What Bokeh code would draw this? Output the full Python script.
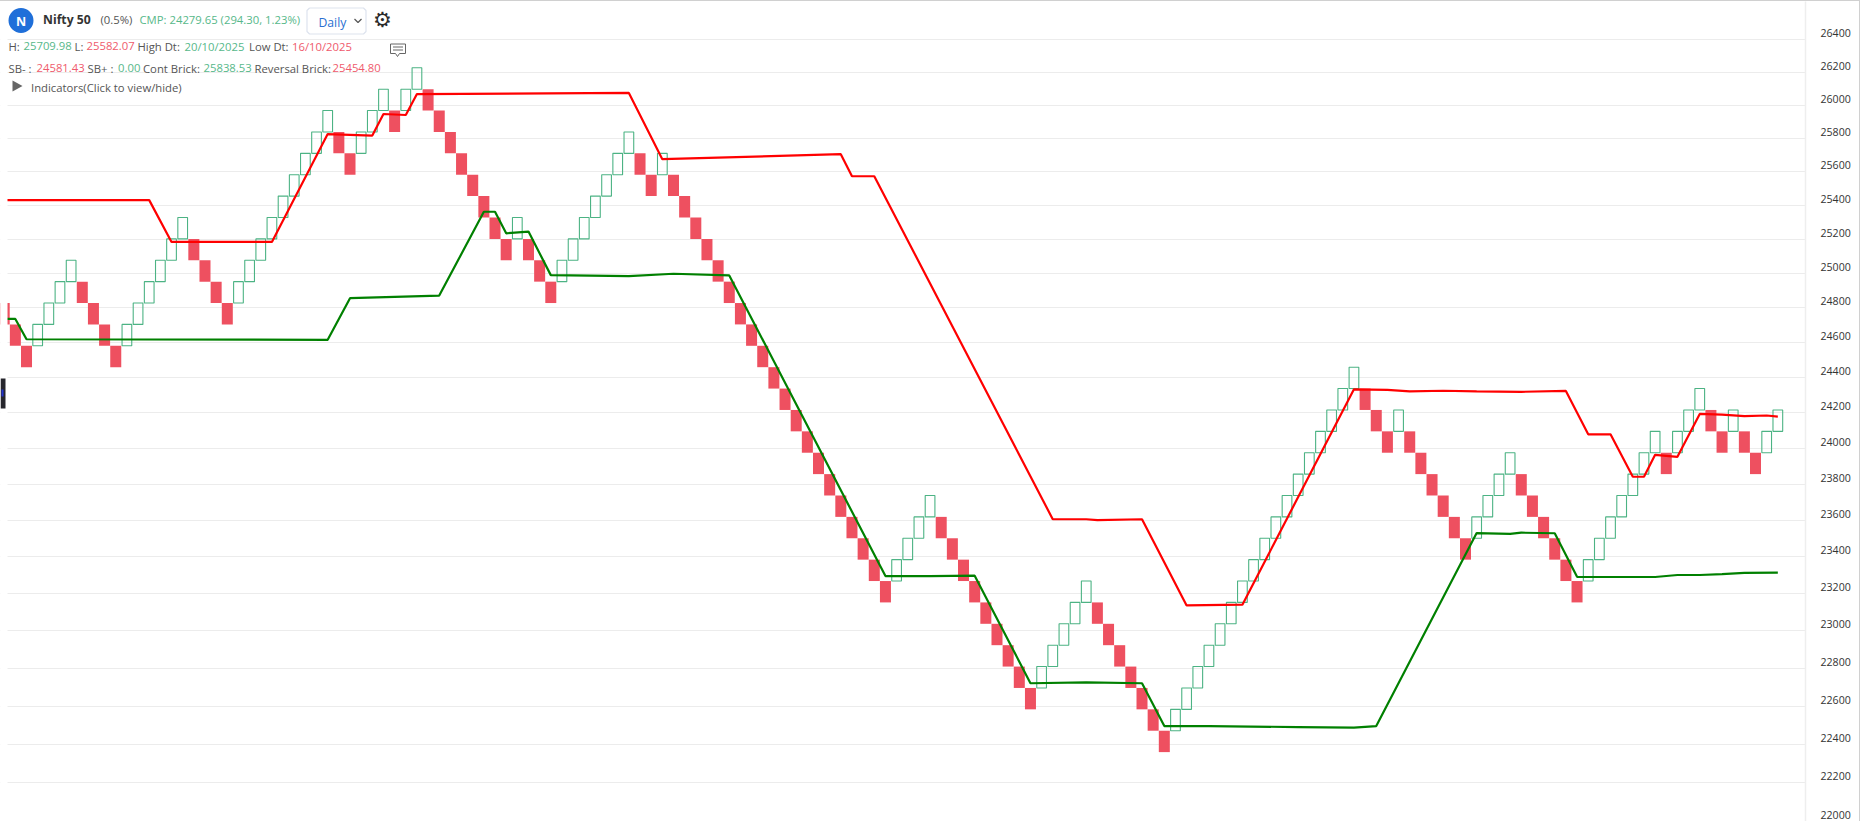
from bokeh.core.properties import value
from bokeh.embed import file_html
from bokeh.models import (BasicTickFormatter, FixedTicker, Grid, LinearAxis,
                          LinearScale, LogScale, Range1d)
from bokeh.plotting import figure
from bokeh.resources import INLINE

# ---- chart values -----------------------------------------------------------------------
y_ticks = [22000, 22200, 22400, 22600, 22800, 23000, 23200, 23400, 23600, 23800, 24000, 24200,
           24400, 24600, 24800, 25000, 25200, 25400, 25600, 25800, 26000, 26200, 26400]

brick_levels = [22358.97, 22470.77, 22583.12, 22696.04, 22809.52, 22923.57, 23038.18, 23153.37,
                23269.14, 23385.49, 23502.42, 23619.93, 23738.03, 23856.72, 23976.00, 24095.88,
                24216.36, 24337.44, 24459.13, 24581.43, 24704.35, 24827.87, 24952.01, 25076.77,
                25202.15, 25328.16, 25454.80, 25582.07, 25709.98, 25838.53, 25967.72, 26097.56,
                26228.05]

# top price of the brick in each column
brick_top = [
    24827.87, 24704.35, 24581.43, 24704.35, 24827.87, 24952.01, 25076.77, 24952.01, 24827.87, 24704.35,
    24581.43, 24704.35, 24827.87, 24952.01, 25076.77, 25202.15, 25328.16, 25202.15, 25076.77, 24952.01,
    24827.87, 24952.01, 25076.77, 25202.15, 25328.16, 25454.80, 25582.07, 25709.98, 25838.53, 25967.72,
    25838.53, 25709.98, 25838.53, 25967.72, 26097.56, 25967.72, 26097.56, 26228.05, 26097.56, 25967.72,
    25838.53, 25709.98, 25582.07, 25454.80, 25328.16, 25202.15, 25328.16, 25202.15, 25076.77, 24952.01,
    25076.77, 25202.15, 25328.16, 25454.80, 25582.07, 25709.98, 25838.53, 25709.98, 25582.07, 25709.98,
    25582.07, 25454.80, 25328.16, 25202.15, 25076.77, 24952.01, 24827.87, 24704.35, 24581.43, 24459.13,
    24337.44, 24216.36, 24095.88, 23976.00, 23856.72, 23738.03, 23619.93, 23502.42, 23385.49, 23269.14,
    23385.49, 23502.42, 23619.93, 23738.03, 23619.93, 23502.42, 23385.49, 23269.14, 23153.37, 23038.18,
    22923.57, 22809.52, 22696.04, 22809.52, 22923.57, 23038.18, 23153.37, 23269.14, 23153.37, 23038.18,
    22923.57, 22809.52, 22696.04, 22583.12, 22470.77, 22583.12, 22696.04, 22809.52, 22923.57, 23038.18,
    23153.37, 23269.14, 23385.49, 23502.42, 23619.93, 23738.03, 23856.72, 23976.00, 24095.88, 24216.36,
    24337.44, 24459.13, 24337.44, 24216.36, 24095.88, 24216.36, 24095.88, 23976.00, 23856.72, 23738.03,
    23619.93, 23502.42, 23619.93, 23738.03, 23856.72, 23976.00, 23856.72, 23738.03, 23619.93, 23502.42,
    23385.49, 23269.14, 23385.49, 23502.42, 23619.93, 23738.03, 23856.72, 23976.00, 24095.88, 23976.00,
    24095.88, 24216.36, 24337.44, 24216.36, 24095.88, 24216.36, 24095.88, 23976.00, 24095.88, 24216.36,
]

red_cols = [0, 13, 15, 24, 29, 33, 34, 36, 37, 56, 59, 75, 76, 78, 94, 97, 98, 102, 106, 111, 121, 124,
            126, 129, 132, 136, 140, 142, 144, 146, 147, 148, 150, 152, 154, 156, 158, 159]
red_vals = [25431, 25431, 25184, 25184, 25826, 25817, 25947, 25941, 26068, 26075, 25675, 25705, 25573,
            25573, 23607, 23607, 23602, 23607, 23137, 23141, 24333, 24330, 24322, 24325, 24322, 24319,
            24324, 24079, 24079, 23842, 23842, 23964, 23953, 24194, 24190, 24182, 24185, 24179]

green_cols = [0, 1, 2, 29, 31, 39, 43, 44, 45, 47, 49, 56, 60, 65, 79, 83, 87, 92, 97, 102, 104, 108, 116,
              121, 123, 132, 135, 136, 139, 141, 148, 150, 152, 154, 156, 159]
green_vals = [24736, 24736, 24619, 24616, 24856, 24871, 25362, 25362, 25235, 25245, 24990, 24984, 24998,
              24988, 23296, 23296, 23298, 22721, 22726, 22721, 22495, 22495, 22490, 22487, 22495, 23531,
              23526, 23533, 23530, 23292, 23291, 23302, 23302, 23307, 23313, 23315]

# ---- derived brick table ------------------------------------------------------------------
brick_bottom = [brick_levels[brick_levels.index(t) - 1] for t in brick_top]
brick_col = list(range(len(brick_top)))
is_up = [i > 0 and brick_top[i] > brick_top[i - 1] for i in brick_col]
up_x = [c for c, u in zip(brick_col, is_up) if u]
up_t = [t for t, u in zip(brick_top, is_up) if u]
up_b = [b for b, u in zip(brick_bottom, is_up) if u]
dn_x = [c for c, u in zip(brick_col, is_up) if not u]
dn_t = [t for t, u in zip(brick_top, is_up) if not u]
dn_b = [b for b, u in zip(brick_bottom, is_up) if not u]

WIDTH, HEIGHT = 1860, 821
RIGHT = 1805
FONT = value("Open Sans")

p = figure(width=WIDTH, height=HEIGHT, output_backend="svg", toolbar_location=None,
           x_range=Range1d(-0.3317, 161.48), y_range=Range1d(21994.9, 26636.8),
           y_axis_type="log", x_axis_location=None, y_axis_location=None,
           min_border_left=0, min_border_right=WIDTH - RIGHT, min_border_top=0, min_border_bottom=0,
           margin=(0, 0, 0, 0), outline_line_color=None,
           styles={"border-top": "1px solid #d0d0d0", "border-right": "1px solid #d0d0d0"})
p.y_scale = LogScale()
p.renderers = []
p.grid.visible = False

# secondary ranges: pixel space for the page header, shifted price space for the axis labels
p.extra_x_ranges = {"px": Range1d(0, RIGHT)}
p.extra_y_ranges = {"px": Range1d(822, 1), "tick_labels": Range1d(21961.07, 26595.8)}
p.extra_x_scales = {"px": LinearScale()}
p.extra_y_scales = {"px": LinearScale(), "tick_labels": LogScale()}

p.add_layout(Grid(dimension=1, ticker=FixedTicker(ticks=y_ticks), grid_line_color="#ececec",
                  grid_line_width=1.2), "center")

axis = LinearAxis(y_range_name="tick_labels", ticker=FixedTicker(ticks=y_ticks),
                  formatter=BasicTickFormatter(use_scientific=False),
                  axis_line_color="#eeeeee", axis_line_width=1.5,
                  major_tick_line_color=None, minor_tick_line_color=None,
                  major_tick_in=0, major_tick_out=0, major_label_standoff=15,
                  major_label_text_font="Open Sans", major_label_text_font_size="10.6px",
                  major_label_text_color="#333333")
p.add_layout(axis, "right")

# bricks and lines
p.vbar(x=dn_x, top=dn_t, bottom=dn_b, width=0.987, fill_color="#ee5060", line_color=None)
p.vbar(x=up_x, top=up_t, bottom=up_b, width=0.87, fill_alpha=0, line_color="#4cb384", line_width=1.1)
p.line(red_cols, red_vals, line_color="#ff0000", line_width=2.2)
p.line(green_cols, green_vals, line_color="#008000", line_width=2.2)

# ---- page header and chrome --------------------------------------------------------------
GREY, GRN, RED = "#555555", "#57b88a", "#ef5a6c"
px = dict(x_range_name="px", y_range_name="px")

# left gutter of the page: the chart starts at x=7, with the side tab in the gutter
p.quad(left=[0], right=[7], top=[822], bottom=[0], fill_color="white", line_color=None, **px)
p.quad(left=[0], right=[5], top=[408], bottom=[378], fill_color="#26262c", line_color=None, **px)
p.quad(left=[1], right=[3], top=[396], bottom=[389], fill_color="#2233cc", line_color=None, **px)

p.scatter([20.5], [20], size=25, fill_color="#1f6fd9", line_color=None, marker="circle", **px)
p.text([20.5], [20.5], text=["N"], text_color="white", text_font=FONT, text_font_size="12.5px",
       text_font_style="bold", text_align="center", text_baseline="middle", **px)
p.text([42.5], [18.5], text=["Nifty 50"], text_color="#333333", text_font=FONT, text_font_size="12.2px",
       text_font_style="bold", text_baseline="middle", **px)

row_x = [100, 139, 8, 23, 74, 86, 137, 184, 248.5, 291.5,
         8, 36, 87, 117.5, 142.5, 203, 254, 332, 30.5]
row_y = [18.5, 18.5, 45.5, 45.5, 45.5, 45.5, 45.5, 45.5, 45.5, 45.5,
         67.5, 67.5, 67.5, 67.5, 67.5, 67.5, 67.5, 67.5, 87]
row_t = ["(0.5%)", "CMP: 24279.65 (294.30, 1.23%)", "H:", "25709.98", "L:", "25582.07", "High Dt:",
         "20/10/2025", "Low Dt:", "16/10/2025", "SB- :", "24581.43", "SB+ :", "0.00", "Cont Brick:",
         "25838.53", "Reversal Brick:", "25454.80", "Indicators(Click to view/hide)"]
row_c = [GREY, GRN, GREY, GRN, GREY, RED, GREY, GRN, GREY, RED,
         GREY, RED, GREY, GRN, GREY, GRN, GREY, RED, GREY]
p.text(row_x, row_y, text=row_t, text_color=row_c, text_font=FONT, text_font_size="11.3px",
       text_baseline="middle", **px)

# dropdown outline with softened corners
p.line([309, 363, 365.5, 365.5, 363, 309, 306.5, 306.5, 309],
       [7.5, 7.5, 10, 31, 33.5, 33.5, 31, 10, 7.5], line_color="#dde3ee", line_width=1.2, **px)
p.text([318], [21.5], text=["Daily"], text_color="#2a6fd1", text_font=FONT, text_font_size="12.2px",
       text_baseline="middle", **px)
p.line([354, 357.5, 361], [18.5, 22, 18.5], line_color="#555555", line_width=1.2, **px)
p.text([382], [19], text=["\u2699"], text_color="#2b2b2b", text_font=value("DejaVu Sans"),
       text_font_size="21px", text_align="center", text_baseline="middle", **px)
p.patch([12, 22, 12], [80, 85.5, 91], fill_color="#666666", line_color=None, **px)

# comment icon
p.line([390, 405, 405, 399, 397, 395, 390, 390], [43.5, 43.5, 53, 53, 56, 53, 53, 43.5],
       line_color="#666666", line_width=1, **px)
p.multi_line([[392.5, 402.5], [392.5, 402.5]], [[46.5, 46.5], [49.5, 49.5]],
             line_color="#666666", line_width=1, **px)

open("out.html", "w").write(file_html(p, INLINE))
